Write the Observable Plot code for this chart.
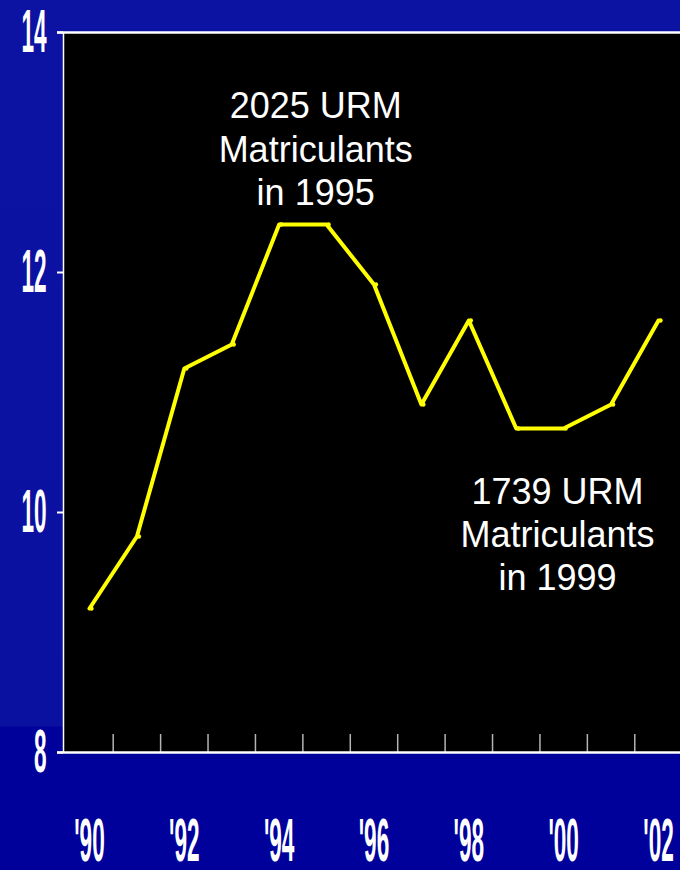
<!DOCTYPE html>
<html>
<head>
<meta charset="utf-8">
<script src="https://cdn.jsdelivr.net/npm/d3@7"></script>
<script src="https://cdn.jsdelivr.net/npm/@observablehq/plot@0.6"></script>
<style>
  html, body { margin: 0; padding: 0; overflow: hidden; }
  #chart {
    width: 680px; height: 870px;
    background: linear-gradient(to bottom, #0c12a2 0px, #0a10a0 726px, #00009b 727px, #00009b 870px);
  }
  #chart svg { display: block; background: transparent; }
</style>
</head>
<body>
<div id="chart"></div>
<script>
// ---- data ----
const years  = [1990, 1991, 1992, 1993, 1994, 1995, 1996, 1997, 1998, 1999, 2000, 2001, 2002];
const values = [9.2, 9.8, 11.2, 11.4, 12.4, 12.4, 11.9, 10.9, 11.6, 10.7, 10.7, 10.9, 11.6];
const yTicks = [8, 10, 12, 14];
const xLabelYears = [1990, 1992, 1994, 1996, 1998, 2000, 2002];
const xLabels = ["'90", "'92", "'94", "'96", "'98", "'00", "'02"];
const xTickMarks = [1990.5, 1991.5, 1992.5, 1993.5, 1994.5, 1995.5, 1996.5, 1997.5, 1998.5, 1999.5, 2000.5, 2001.5];
const noteText = ["2025 URM\nMatriculants\nin 1995", "1739 URM\nMatriculants\nin 1999"];
const noteX = [1994.77, 1999.87];
const noteY = [13.04, 9.83];

// ---- tables built from arrays ----
const series = years.map((year, i) => ({year, value: values[i]}));
const xLab = xLabelYears.map((year, i) => ({year, label: xLabels[i]}));
const notes = noteText.map((text, i) => ({text, x: noteX[i], y: noteY[i]}));

const xDomain = [1989.452, 2002.464];
const tickLen = 0.127; // 6px in year units

const labelFont = "'Liberation Sans', Arial, sans-serif";

const plot = Plot.plot({
  width: 680,
  height: 870,
  marginLeft: 63,
  marginRight: 0,
  marginTop: 32,
  marginBottom: 118,
  x: {domain: xDomain, axis: null},
  y: {domain: [8, 14], axis: null},
  style: {background: "transparent", overflow: "visible"},
  marks: [
    Plot.frame({fill: "black", stroke: null}),
    // x ticks (between years)
    Plot.ruleX(xTickMarks, {y1: 8, y2: 8.15, stroke: "#b4b4b4", strokeWidth: 1.5}),
    // left axis line
    Plot.ruleX([xDomain[0]], {y1: 8, y2: 14, stroke: "white", strokeWidth: 1.5}),
    // top & bottom lines including tick stubs
    Plot.ruleY([14, 8], {x1: xDomain[0] - tickLen, x2: xDomain[1], stroke: "white", strokeWidth: 2.5}),
    // y tick stubs
    Plot.ruleY(yTicks, {x1: xDomain[0] - tickLen, x2: xDomain[0], stroke: "white", strokeWidth: 2}),
    // data line
    Plot.line(series, {x: "year", y: "value", stroke: "#ffff00", strokeWidth: 4}),
    Plot.dot(series, {x: "year", y: "value", fill: "#ffff00", r: 2.2, dx: 2}),
    // annotations
    Plot.text(notes, {x: "x", y: "y", text: "text", fill: "white", fontSize: 36,
      fontFamily: labelFont, lineHeight: 1.2, textAnchor: "middle", lineAnchor: "middle"}),
    // y labels
    Plot.text(yTicks, {x: xDomain[0], y: d => d, text: d => String(d), dx: -17,
      fill: "white", fontSize: 61, fontWeight: "bold", fontFamily: labelFont,
      textAnchor: "end", lineAnchor: "middle", ariaDescription: "ylabels"}),
    // x labels
    Plot.text(xLab, {x: "year", y: 8, text: "label", dy: 89,
      fill: "white", fontSize: 61, fontWeight: "bold", fontFamily: labelFont,
      textAnchor: "middle", lineAnchor: "middle", ariaDescription: "xlabels"})
  ]
});

// condense the tick label glyphs horizontally (scale about the anchor point)
d3.select(plot).selectAll("text").filter(function() {
  const g = this.closest("g");
  const desc = g && g.getAttribute("aria-description");
  return desc === "ylabels" || desc === "xlabels";
}).each(function() {
  const t = this.getAttribute("transform") || "";
  const xa = this.getAttribute("x");
  const x = (xa && !/[a-z%]/i.test(xa)) ? parseFloat(xa) || 0 : 0;
  this.setAttribute("transform", `${t} translate(${x},0) scale(0.37,1) translate(${-x},0)`.trim());
});

document.getElementById("chart").appendChild(plot);
</script>
</body>
</html>
